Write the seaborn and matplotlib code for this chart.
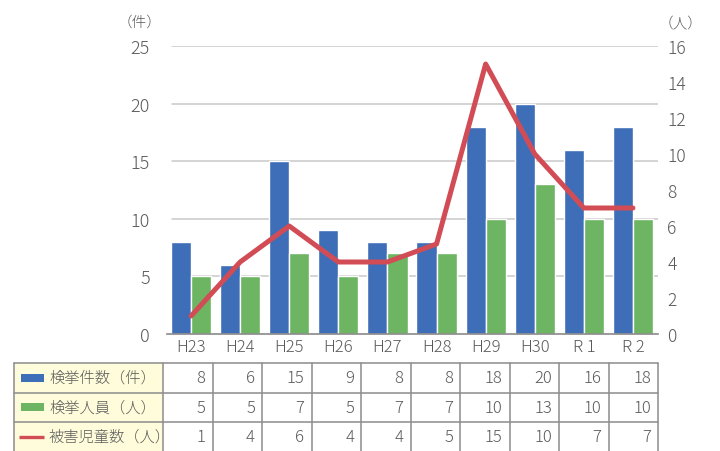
import numpy as np
import pandas as pd
import matplotlib
matplotlib.use("Agg")
import matplotlib.pyplot as plt
from matplotlib.patches import Rectangle
import seaborn as sns

# ---- data ----
years = ["H23", "H24", "H25", "H26", "H27", "H28", "H29", "H30", "R1", "R2"]
year_labels = ["H23", "H24", "H25", "H26", "H27", "H28", "H29", "H30", "R 1", "R 2"]
cases = [8, 6, 15, 9, 8, 8, 18, 20, 16, 18]          # 検挙件数（件）
arrested = [5, 5, 7, 5, 7, 7, 10, 13, 10, 10]        # 検挙人員（人）
victims = [1, 4, 6, 4, 4, 5, 15, 10, 7, 7]           # 被害児童数（人）
series_names = ["検挙件数（件）", "検挙人員（人）", "被害児童数（人）"]
left_ticks = [0, 5, 10, 15, 20, 25]
right_ticks = [0, 2, 4, 6, 8, 10, 12, 14, 16]

BLUE = "#3F6EB8"
GREEN = "#6DB562"
RED = "#D24C56"
TXT = "#5A5A5A"
GRID = "#C9C9C9"
CELL_BG = "#FEFCDA"
WEIGHT = "light"

sns.set_theme(style="white")
plt.rcParams["font.family"] = ["Noto Sans CJK JP", "DejaVu Sans"]
plt.rcParams["font.weight"] = WEIGHT

W, H = 720, 452
fig = plt.figure(figsize=(W / 100, H / 100), dpi=100)

# plot area in pixel coordinates
px_l, px_r, px_top, px_bot = 166.5, 657.5, 47, 335
ax = fig.add_axes([px_l / W, (H - px_bot) / H, (px_r - px_l) / W, (px_bot - px_top) / H])

df = pd.DataFrame({
    "year": years * 2,
    "value": cases + arrested,
    "series": [series_names[0]] * len(years) + [series_names[1]] * len(years),
})
sns.barplot(data=df, x="year", y="value", hue="series", order=years,
            hue_order=series_names[:2], palette=[BLUE, GREEN],
            width=0.82, gap=0, saturation=1, legend=False, ax=ax, zorder=2)

ax.set_ylim(0, 25)
ax.set_xlim(-0.5, len(years) - 0.5)
ax.set_yticks(left_ticks)
ax.set_yticklabels([str(t) for t in left_ticks], fontsize=13, color=TXT, fontweight=WEIGHT)
ax.set_xticks(range(len(years)))
ax.set_xticklabels(year_labels, fontsize=12, color=TXT, fontweight=WEIGHT)
ax.tick_params(axis="both", length=0)
ax.tick_params(axis="y", pad=12)
ax.tick_params(axis="x", pad=3)
ax.set_xlabel("")
ax.set_ylabel("")
for t in left_ticks[1:]:
    ax.axhline(t, xmin=0.011, color=GRID, lw=1.1, zorder=0)
for s in ["top", "right", "left"]:
    ax.spines[s].set_visible(False)
ax.spines["bottom"].set_color("#8A8A8A")
ax.spines["bottom"].set_linewidth(1.2)
ax.set_facecolor("none")

ax2 = ax.twinx()
sns.lineplot(x=np.arange(len(years)), y=victims, color=RED, lw=3.6, ax=ax2)
ax2.set_ylim(0, 16)
ax2.set_yticks(right_ticks)
ax2.set_yticklabels([str(t) for t in right_ticks], fontsize=12.5, color=TXT, fontweight=WEIGHT)
ax2.tick_params(axis="y", length=0, pad=7)
for s in ["top", "right", "left", "bottom"]:
    ax2.spines[s].set_visible(False)
ax2.grid(False)
ax2.set_ylabel("")

# unit labels
fig.text(140 / W, 1 - 23 / H, "（件）", fontsize=10.5, color=TXT, ha="center", va="center",
         fontweight=WEIGHT)
fig.text(681 / W, 1 - 24 / H, "（人）", fontsize=10.5, color=TXT, ha="center", va="center",
         fontweight=WEIGHT)

# ---- data table below the chart ----
tab = fig.add_axes([0, 0, 1, 1])
tab.set_xlim(0, W)
tab.set_ylim(H, 0)
tab.axis("off")
tab.patch.set_alpha(0)

t_left, t_lab, col_w = 14, 163, 49.5
row_y = [364, 393.5, 423, 452.5]
t_right = t_lab + col_w * len(years)
LINE = "#8C8C8C"

tab.add_patch(Rectangle((t_left, row_y[0]), t_lab - t_left, row_y[-1] - row_y[0],
                        facecolor=CELL_BG, edgecolor="none", zorder=0))
for y in row_y[:-1]:
    tab.plot([t_left, t_right], [y, y], color=LINE, lw=1.1)
xs = [t_left, t_lab] + [t_lab + col_w * (i + 1) for i in range(len(years))]
for x in xs:
    tab.plot([x, x], [row_y[0], row_y[-1]], color=LINE, lw=1.1)

rows = [cases, arrested, victims]
for r, (name, vals) in enumerate(zip(series_names, rows)):
    yc = (row_y[r] + row_y[r + 1]) / 2
    if r < 2:
        tab.add_patch(Rectangle((21, yc - 4), 23, 8,
                                facecolor=[BLUE, GREEN][r], edgecolor="none"))
    else:
        tab.plot([19, 44], [yc, yc], color=RED, lw=2.4, solid_capstyle="butt")
    tab.text(49, yc, name, fontsize=11, color=TXT, ha="left", va="center",
             fontweight=WEIGHT)
    for i, v in enumerate(vals):
        tab.text(t_lab + col_w * (i + 1) - 7, yc, str(v), fontsize=12,
                 color=TXT, ha="right", va="center", fontweight=WEIGHT)

fig.savefig("out.png", dpi=100, facecolor="white")
